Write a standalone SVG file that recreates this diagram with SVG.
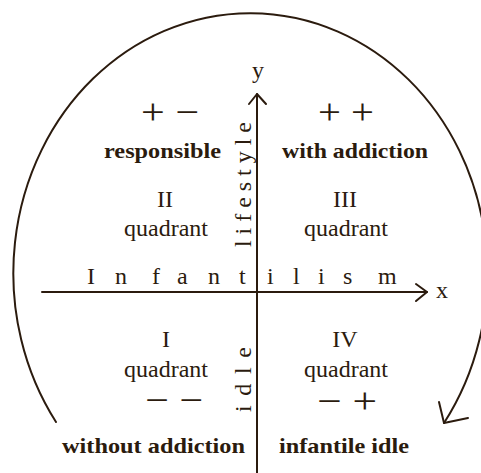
<svg xmlns="http://www.w3.org/2000/svg" width="481" height="473" viewBox="0 0 481 473">
  <style>
    .ln { fill: none; stroke: #2b1b0e; stroke-width: 2; stroke-linecap: round; stroke-linejoin: round; }
    .t { font-family: "Liberation Serif", "Times New Roman", serif; fill: #2b1b0e; font-size: 24px; }
    .b { font-weight: bold; font-size: 22px; }
    .s { font-size: 36px; }
    .m { text-anchor: middle; }
  </style>
  <rect width="481" height="473" fill="#ffffff"/>
  <g id="connectors">
    <path class="ln" d="M56,422 A237,260 0 1,1 444,423"/>
    <polyline class="ln" points="439,402 444,423 468,418"/>
    <line class="ln" x1="257" y1="94" x2="257" y2="473"/>
    <polyline class="ln" points="249,104 257,94 266,104"/>
    <line class="ln" x1="42" y1="292" x2="427" y2="292"/>
    <polyline class="ln" points="416,284 427,292 416,301"/>
  </g>
  <g id="axis-labels">
    <text class="t m" x="258" y="78">y</text>
    <text class="t" x="436" y="298">x</text>
    <text class="t" font-size="26" y="284" x="87 115 152 177 208 239 267 293 318 343 378">Infantilism</text>
    <text class="t" font-size="26" transform="translate(251,247) rotate(-90)" textLength="125" lengthAdjust="spacing">lifestyle</text>
    <text class="t" font-size="26" transform="translate(251,412) rotate(-90)" textLength="65" lengthAdjust="spacing">idle</text>
  </g>
  <g id="quadrant-II">
    <text class="t s m" x="170" y="124" textLength="58" lengthAdjust="spacingAndGlyphs">+ −</text>
    <text class="t b" x="104" y="158" textLength="117" lengthAdjust="spacingAndGlyphs">responsible</text>
    <text class="t m" x="165" y="207">II</text>
    <text class="t m" x="166" y="236" textLength="84" lengthAdjust="spacingAndGlyphs">quadrant</text>
  </g>
  <g id="quadrant-III">
    <text class="t s m" x="346" y="124" textLength="56" lengthAdjust="spacingAndGlyphs">+ +</text>
    <text class="t b" x="282" y="158" textLength="146" lengthAdjust="spacingAndGlyphs">with addiction</text>
    <text class="t m" x="345" y="207">III</text>
    <text class="t m" x="346" y="236" textLength="84" lengthAdjust="spacingAndGlyphs">quadrant</text>
  </g>
  <g id="quadrant-I">
    <text class="t m" x="166" y="347">I</text>
    <text class="t m" x="166" y="377" textLength="84" lengthAdjust="spacingAndGlyphs">quadrant</text>
    <text class="t s m" x="174" y="412" textLength="58" lengthAdjust="spacingAndGlyphs">− −</text>
    <text class="t b" x="62" y="453" textLength="183" lengthAdjust="spacingAndGlyphs">without addiction</text>
  </g>
  <g id="quadrant-IV">
    <text class="t m" x="345" y="347">IV</text>
    <text class="t m" x="346" y="377" textLength="84" lengthAdjust="spacingAndGlyphs">quadrant</text>
    <text class="t s m" x="347" y="413" textLength="60" lengthAdjust="spacingAndGlyphs">− +</text>
    <text class="t b" x="279" y="453" textLength="130" lengthAdjust="spacingAndGlyphs">infantile idle</text>
  </g>
</svg>
